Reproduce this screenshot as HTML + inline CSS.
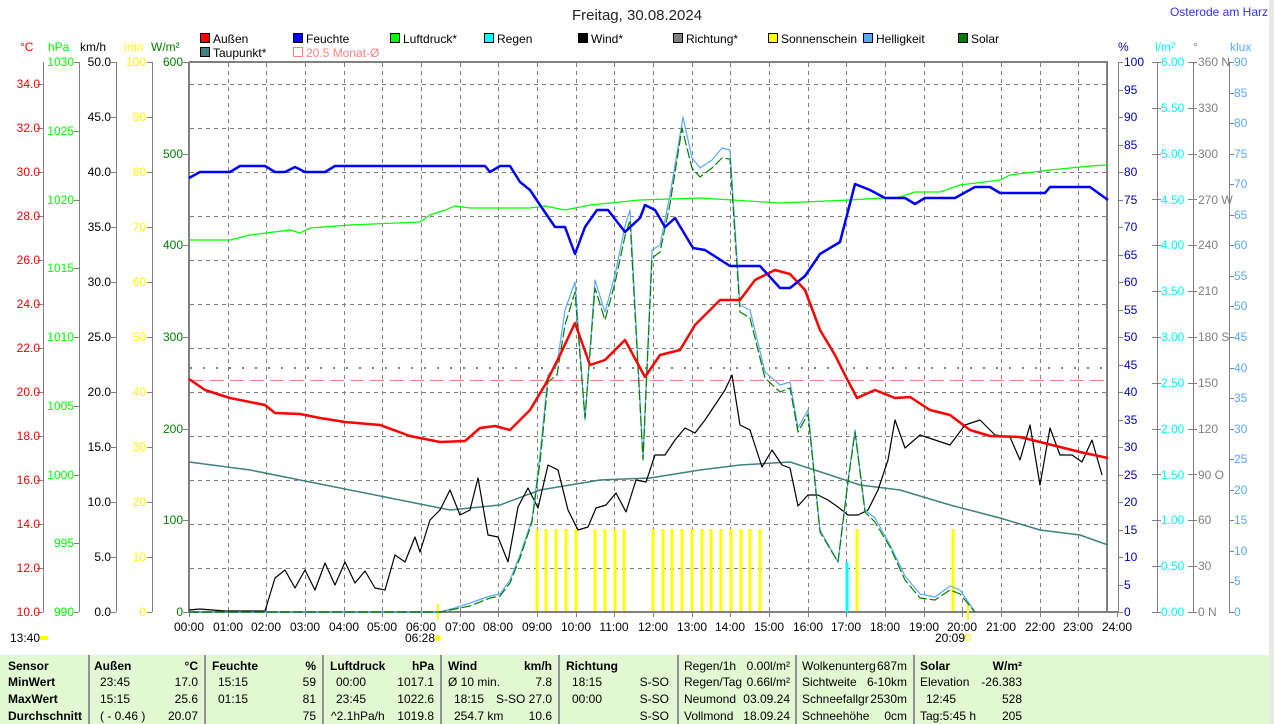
<!DOCTYPE html>
<html><head><meta charset="utf-8"><style>
html,body{margin:0;padding:0;background:#fff;width:1274px;height:724px;overflow:hidden}
svg{display:block;font-family:"Liberation Sans",sans-serif;font-size:12px}
.tb{position:absolute;left:0;top:655px;width:1270px;height:69px;background:#e2f8d2;font-family:"Liberation Sans",sans-serif;font-size:12px}
</style></head><body>
<svg id="s" width="1274" height="724" viewBox="0 0 1274 724">
<rect x="1269" y="0" width="5" height="724" fill="#e8e8e8"/>
<text x="637" y="20" text-anchor="middle" font-size="15" fill="#222">Freitag, 30.08.2024</text>
<text x="1268" y="16" text-anchor="end" fill="#3030ff">Osterode am Harz</text>
<g stroke="#000" stroke-width="1">
<rect x="200.5" y="33.5" width="9" height="9" fill="#f00"/>
<rect x="293.5" y="33.5" width="9" height="9" fill="#00f"/>
<rect x="390.5" y="33.5" width="9" height="9" fill="#0f0"/>
<rect x="484.5" y="33.5" width="9" height="9" fill="#0ff"/>
<rect x="578.5" y="33.5" width="9" height="9" fill="#000"/>
<rect x="673.5" y="33.5" width="9" height="9" fill="#808080"/>
<rect x="768.5" y="33.5" width="9" height="9" fill="#ff0"/>
<rect x="863.5" y="33.5" width="9" height="9" fill="#5aa8ff"/>
<rect x="958.5" y="33.5" width="9" height="9" fill="#008000"/>
<rect x="200.5" y="47.5" width="9" height="9" fill="#408080"/>
</g>
<rect x="293.5" y="47.5" width="9" height="9" fill="none" stroke="#ff8080"/>
<g fill="#000">
<text x="213" y="43">Außen</text><text x="306" y="43">Feuchte</text><text x="403" y="43">Luftdruck*</text><text x="497" y="43">Regen</text><text x="591" y="43">Wind*</text><text x="686" y="43">Richtung*</text><text x="781" y="43">Sonnenschein</text><text x="876" y="43">Helligkeit</text><text x="971" y="43">Solar</text><text x="213" y="57">Taupunkt*</text>
</g>
<text x="306" y="57" fill="#ff8080">20.5 Monat-Ø</text>
<text x="20" y="51" fill="#f00">°C</text><text x="48" y="51" fill="#0f0">hPa</text><text x="80" y="51">km/h</text><text x="124" y="51" fill="#ff0">min</text><text x="151" y="51" fill="#008000">W/m²</text>
<text x="1118" y="51" fill="#0000c0">%</text><text x="1155" y="51" fill="#0ff">l/m²</text><text x="1193" y="51" fill="#808080">°</text><text x="1230" y="51" fill="#5aa8ff">klux</text>
<g id="grid"></g>
<g text-anchor="end" fill="#f00">
<text x="40" y="88">34.0</text><text x="40" y="132">32.0</text><text x="40" y="176">30.0</text><text x="40" y="220">28.0</text><text x="40" y="264">26.0</text><text x="40" y="308">24.0</text><text x="40" y="352">22.0</text><text x="40" y="396">20.0</text><text x="40" y="440">18.0</text><text x="40" y="484">16.0</text><text x="40" y="528">14.0</text><text x="40" y="572">12.0</text><text x="40" y="616">10.0</text></g>
<g text-anchor="end" fill="#0f0">
<text x="74" y="66">1030</text><text x="74" y="135">1025</text><text x="74" y="204">1020</text><text x="74" y="272">1015</text><text x="74" y="341">1010</text><text x="74" y="410">1005</text><text x="74" y="479">1000</text><text x="74" y="547">995</text><text x="74" y="616">990</text></g>
<g text-anchor="end" fill="#000">
<text x="111" y="66">50.0</text><text x="111" y="121">45.0</text><text x="111" y="176">40.0</text><text x="111" y="231">35.0</text><text x="111" y="286">30.0</text><text x="111" y="341">25.0</text><text x="111" y="396">20.0</text><text x="111" y="451">15.0</text><text x="111" y="506">10.0</text><text x="111" y="561">5.0</text><text x="111" y="616">0.0</text></g>
<g text-anchor="end" fill="#ff0">
<text x="146" y="66">100</text><text x="146" y="121">90</text><text x="146" y="176">80</text><text x="146" y="231">70</text><text x="146" y="286">60</text><text x="146" y="341">50</text><text x="146" y="396">40</text><text x="146" y="451">30</text><text x="146" y="506">20</text><text x="146" y="561">10</text><text x="146" y="616">0</text></g>
<g text-anchor="end" fill="#008000">
<text x="183" y="66">600</text><text x="183" y="158">500</text><text x="183" y="249">400</text><text x="183" y="341">300</text><text x="183" y="433">200</text><text x="183" y="524">100</text><text x="183" y="616">0</text></g>
<g fill="#0000c0">
<text x="1124" y="66">100</text><text x="1124" y="94">95</text><text x="1124" y="121">90</text><text x="1124" y="149">85</text><text x="1124" y="176">80</text><text x="1124" y="204">75</text><text x="1124" y="231">70</text><text x="1124" y="259">65</text><text x="1124" y="286">60</text><text x="1124" y="314">55</text><text x="1124" y="341">50</text><text x="1124" y="369">45</text><text x="1124" y="396">40</text><text x="1124" y="424">35</text><text x="1124" y="451">30</text><text x="1124" y="479">25</text><text x="1124" y="506">20</text><text x="1124" y="534">15</text><text x="1124" y="561">10</text><text x="1124" y="589">5</text><text x="1124" y="616">0</text></g>
<g fill="#0ff">
<text x="1161" y="66">6.00</text><text x="1161" y="112">5.50</text><text x="1161" y="158">5.00</text><text x="1161" y="204">4.50</text><text x="1161" y="249">4.00</text><text x="1161" y="295">3.50</text><text x="1161" y="341">3.00</text><text x="1161" y="387">2.50</text><text x="1161" y="433">2.00</text><text x="1161" y="479">1.50</text><text x="1161" y="524">1.00</text><text x="1161" y="570">0.50</text><text x="1161" y="616">0.00</text></g>
<g fill="#808080">
<text x="1198" y="66">360 N</text><text x="1198" y="112">330</text><text x="1198" y="158">300</text><text x="1198" y="204">270 W</text><text x="1198" y="249">240</text><text x="1198" y="295">210</text><text x="1198" y="341">180 S</text><text x="1198" y="387">150</text><text x="1198" y="433">120</text><text x="1198" y="479">90 O</text><text x="1198" y="524">60</text><text x="1198" y="570">30</text><text x="1198" y="616">0 N</text></g>
<g fill="#5aa8ff">
<text x="1234" y="66">90</text><text x="1234" y="97">85</text><text x="1234" y="127">80</text><text x="1234" y="158">75</text><text x="1234" y="188">70</text><text x="1234" y="219">65</text><text x="1234" y="249">60</text><text x="1234" y="280">55</text><text x="1234" y="310">50</text><text x="1234" y="341">45</text><text x="1234" y="372">40</text><text x="1234" y="402">35</text><text x="1234" y="433">30</text><text x="1234" y="463">25</text><text x="1234" y="494">20</text><text x="1234" y="524">15</text><text x="1234" y="555">10</text><text x="1234" y="585">5</text><text x="1234" y="616">0</text></g>
<g text-anchor="middle" fill="#000">
<text x="189" y="631">00:00</text><text x="228" y="631">01:00</text><text x="266" y="631">02:00</text><text x="305" y="631">03:00</text><text x="344" y="631">04:00</text><text x="382" y="631">05:00</text><text x="421" y="631">06:00</text><text x="460" y="631">07:00</text><text x="498" y="631">08:00</text><text x="537" y="631">09:00</text><text x="576" y="631">10:00</text><text x="614" y="631">11:00</text><text x="653" y="631">12:00</text><text x="692" y="631">13:00</text><text x="730" y="631">14:00</text><text x="769" y="631">15:00</text><text x="808" y="631">16:00</text><text x="846" y="631">17:00</text><text x="885" y="631">18:00</text><text x="924" y="631">19:00</text><text x="962" y="631">20:00</text><text x="1001" y="631">21:00</text><text x="1040" y="631">22:00</text><text x="1078" y="631">23:00</text><text x="1117" y="631">24:00</text></g>
<text x="10" y="642">13:40</text><rect x="40" y="636" width="8" height="4" fill="#ff0"/>
<text x="405" y="642">06:28</text><circle cx="438" cy="638" r="3" fill="#ff0"/>
<text x="935" y="642">20:09</text><rect x="965" y="635" width="5" height="5" fill="none" stroke="#ff0"/>
<line x1="438" y1="604" x2="438" y2="620" stroke="#ff0" stroke-width="2"/>
<line x1="968" y1="604" x2="968" y2="620" stroke="#ff0" stroke-width="2"/>
<g stroke="#ff0" stroke-width="3" id="sun"></g>
<line x1="847" y1="562" x2="847" y2="612" stroke="#0ff" stroke-width="3"/>
<line x1="190" y1="368" x2="1106" y2="368" stroke="#808080" stroke-width="2" stroke-dasharray="2 11"/>
<line x1="190" y1="380.5" x2="1106" y2="380.5" stroke="#ff8080" stroke-dasharray="14 6"/>
<g fill="none" stroke-linejoin="round">
<polyline stroke="#408080" stroke-width="1.5" points="189,462 250,470 300,480 350,490 400,500 450,510 500,505 540,490 600,480 650,478 700,470 740,465 790,462 830,475 860,485 900,490 950,505 1000,518 1040,530 1080,535 1108,545"/>
<polyline stroke="#00ff00" stroke-width="1.2" points="189,240 230,240 250,235 290,230 300,233 310,228 350,225 420,222 430,215 445,210 455,206 470,208 530,208 545,206 565,210 590,205 640,200 700,198 780,203 850,200 900,197 915,192 940,192 960,185 1000,180 1010,175 1050,170 1090,166 1108,165"/>
<polyline stroke="#000" stroke-width="1.2" points="189,610 200,609 225,611 265,611 275,578 285,570 295,588 305,570 315,590 325,563 335,585 345,562 355,583 365,571 375,588 385,590 395,555 405,562 415,537 420,552 430,520 440,510 450,490 460,515 470,510 478,478 488,535 498,537 508,562 518,507 528,488 538,508 548,465 558,470 568,510 578,530 588,527 596,508 606,505 616,493 626,512 636,480 646,482 655,455 665,455 675,440 685,428 695,433 705,420 715,405 725,390 732,375 740,425 750,430 762,467 772,450 782,465 790,468 798,506 808,495 818,495 828,500 838,507 848,515 858,515 868,510 878,490 888,460 895,420 905,448 920,435 935,440 950,445 965,425 980,420 995,435 1010,437 1020,460 1030,425 1040,485 1050,428 1060,455 1072,455 1082,462 1092,440 1102,475"/>
<polyline stroke="#5aa8ff" stroke-width="1.2" points="189,612 440,612 455,608 470,603 490,596 500,594 510,580 520,555 532,520 540,455 548,375 557,365 565,310 575,282 585,420 595,280 605,312 615,275 625,226 630,210 643,458 652,250 660,245 670,195 683,117 692,158 700,168 712,160 722,148 730,150 740,305 750,310 765,372 780,385 790,382 798,428 808,410 820,530 838,562 848,480 855,430 865,510 875,518 890,545 905,576 920,594 935,597 950,586 960,590 975,612"/>
<polyline stroke="#008000" stroke-width="1.2" stroke-dasharray="10 3" points="189,612 440,612 455,609 470,606 490,598 500,596 510,583 520,558 532,522 540,462 548,382 557,375 565,325 575,292 585,418 595,288 605,320 615,283 625,236 630,220 643,460 652,258 660,252 670,204 682,128 692,168 700,177 712,168 722,158 730,159 740,312 750,318 765,378 780,392 790,388 798,432 808,414 820,532 838,562 848,482 855,432 865,512 875,522 890,547 905,580 920,598 935,600 950,590 960,594 975,612"/>
<polyline stroke="#f00" stroke-width="2.5" points="189,379 205,390 230,398 265,405 275,413 300,414 320,418 345,422 380,425 410,436 440,442 465,441 480,428 495,426 510,430 530,410 545,385 560,355 575,323 590,365 605,360 625,340 645,377 660,355 680,350 695,325 710,310 720,300 740,300 755,280 775,270 790,274 805,290 820,330 835,355 845,375 857,398 875,390 895,398 910,397 930,410 950,415 970,430 990,436 1020,437 1040,442 1060,447 1080,452 1108,458"/>
<polyline stroke="#00f" stroke-width="2.5" points="189,178 200,172 230,172 240,166 265,166 275,172 285,172 295,167 305,172 325,172 335,166 485,166 490,172 500,166 510,166 520,182 530,190 540,205 555,227 565,227 575,254 585,227 597,210 608,210 625,232 640,218 645,205 655,210 665,227 675,218 693,248 705,250 730,266 760,266 780,288 790,288 805,276 820,254 840,242 855,184 870,190 885,198 905,198 915,204 925,198 955,198 975,187 990,187 1000,193 1045,193 1050,187 1090,187 1108,200"/>
</g>
</svg>
<div class="tb">
<svg width="1270" height="69" style="position:absolute;left:0;top:0">
<g stroke="#909090" stroke-width="2"><line x1="89" y1="0" x2="89" y2="69"/><line x1="205" y1="0" x2="205" y2="69"/><line x1="323" y1="0" x2="323" y2="69"/><line x1="441" y1="0" x2="441" y2="69"/><line x1="559" y1="0" x2="559" y2="69"/><line x1="678" y1="0" x2="678" y2="69"/><line x1="796" y1="0" x2="796" y2="69"/><line x1="914" y1="0" x2="914" y2="69"/></g>
<g font-weight="bold"><text x="8" y="15">Sensor</text><text x="8" y="31">MinWert</text><text x="8" y="48">MaxWert</text><text x="8" y="65">Durchschnitt</text>
<text x="94" y="15">Außen</text><text x="198" y="15" text-anchor="end">°C</text><text x="212" y="15">Feuchte</text><text x="316" y="15" text-anchor="end">%</text><text x="330" y="15">Luftdruck</text><text x="434" y="15" text-anchor="end">hPa</text><text x="448" y="15">Wind</text><text x="552" y="15" text-anchor="end">km/h</text><text x="566" y="15">Richtung</text><text x="920" y="15">Solar</text><text x="1022" y="15" text-anchor="end">W/m²</text></g>
<text x="100" y="31">23:45</text><text x="198" y="31" text-anchor="end">17.0</text><text x="100" y="48">15:15</text><text x="198" y="48" text-anchor="end">25.6</text><text x="100" y="65">( - 0.46 )</text><text x="198" y="65" text-anchor="end">20.07</text>
<text x="218" y="31">15:15</text><text x="316" y="31" text-anchor="end">59</text><text x="218" y="48">01:15</text><text x="316" y="48" text-anchor="end">81</text><text x="316" y="65" text-anchor="end">75</text>
<text x="336" y="31">00:00</text><text x="434" y="31" text-anchor="end">1017.1</text><text x="336" y="48">23:45</text><text x="434" y="48" text-anchor="end">1022.6</text><text x="331" y="65">^2.1hPa/h</text><text x="434" y="65" text-anchor="end">1019.8</text>
<text x="448" y="31">Ø 10 min.</text><text x="552" y="31" text-anchor="end">7.8</text><text x="454" y="48">18:15</text><text x="552" y="48" text-anchor="end">S-SO 27.0</text><text x="454" y="65">254.7 km</text><text x="552" y="65" text-anchor="end">10.6</text>
<text x="572" y="31">18:15</text><text x="669" y="31" text-anchor="end">S-SO</text><text x="572" y="48">00:00</text><text x="669" y="48" text-anchor="end">S-SO</text><text x="669" y="65" text-anchor="end">S-SO</text>
<text x="684" y="15">Regen/1h</text><text x="790" y="15" text-anchor="end">0.00l/m²</text><text x="684" y="31">Regen/Tag</text><text x="790" y="31" text-anchor="end">0.66l/m²</text><text x="684" y="48">Neumond</text><text x="790" y="48" text-anchor="end">03.09.24</text><text x="684" y="65">Vollmond</text><text x="790" y="65" text-anchor="end">18.09.24</text>
<text x="802" y="15">Wolkenunterg</text><text x="907" y="15" text-anchor="end">687m</text><text x="802" y="31">Sichtweite</text><text x="907" y="31" text-anchor="end">6-10km</text><text x="802" y="48">Schneefallgr</text><text x="907" y="48" text-anchor="end">2530m</text><text x="802" y="65">Schneehöhe</text><text x="907" y="65" text-anchor="end">0cm</text>
<text x="920" y="31">Elevation</text><text x="1022" y="31" text-anchor="end">-26.383</text><text x="926" y="48">12:45</text><text x="1022" y="48" text-anchor="end">528</text><text x="920" y="65">Tag:5:45 h</text><text x="1022" y="65" text-anchor="end">205</text>
</svg></div>
<script>
var NS="http://www.w3.org/2000/svg",g=document.getElementById("grid");
function L(x1,y1,x2,y2,c,w,d){var l=document.createElementNS(NS,"line");l.setAttribute("x1",x1);l.setAttribute("y1",y1);l.setAttribute("x2",x2);l.setAttribute("y2",y2);l.setAttribute("stroke",c);l.setAttribute("stroke-width",w||1);if(d)l.setAttribute("stroke-dasharray",d);g.appendChild(l);}
var i;
for(i=0;i<12;i++){L(190,84+i*44+.5,1106,84+i*44+.5,"#808080",1,"4 4");}
for(i=1;i<24;i++){var x=Math.round(189+i*38.667)+.5;L(x,63,x,611,"#808080",1,"4 4");}
for(i=0;i<=24;i++){var x=Math.round(189+i*38.667)+.5;L(x,612,x,617,"#808080");}
L(189,62,1108,62,"#808080",2);L(189,62,189,613,"#808080",2);L(1107,62,1107,613,"#808080",2);L(189,612,1118,612,"#808080",2);
[43,79,116,152].forEach(function(x){L(x+.5,62,x+.5,612,"#808080");});
[1118,1157,1193,1229].forEach(function(x){L(x+.5,62,x+.5,612,"#808080");});
for(i=0;i<13;i++)L(37,84+i*44+.5,43,84+i*44+.5,"#808080");
for(i=0;i<9;i++){var y=Math.round(62+i*68.75)+.5;L(74,y,79,y,"#808080");}
for(i=0;i<11;i++){var y=62+i*55+.5;L(111,y,116,y,"#808080");L(147,y,152,y,"#808080");}
for(i=0;i<7;i++){var y=Math.round(62+i*91.67)+.5;L(183,y,189,y,"#808080");}
for(i=0;i<21;i++){var y=Math.round(62+i*27.5)+.5;L(1118,y,1123,y,"#808080");}
for(i=0;i<13;i++){var y=Math.round(62+i*45.83)+.5;L(1152,y,1161,y,"#808080");L(1188,y,1197,y,"#808080");}
for(i=0;i<19;i++){var y=Math.round(62+i*30.56)+.5;L(1229,y,1234,y,"#808080");}
var s=document.getElementById("sun");
[537,546,556,566,576,595,605,615,624,653,663,672,682,692,702,711,721,731,741,750,760,857,953].forEach(function(x){var l=document.createElementNS(NS,"line");l.setAttribute("x1",x);l.setAttribute("x2",x);l.setAttribute("y1",529);l.setAttribute("y2",611);s.appendChild(l);});
</script>
</body></html>
